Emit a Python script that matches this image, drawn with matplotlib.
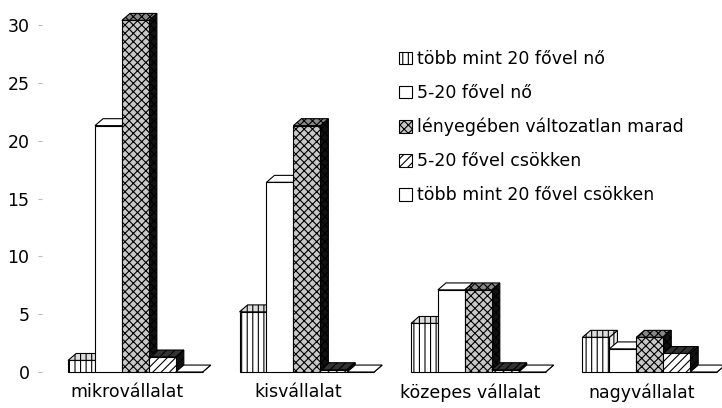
import matplotlib
matplotlib.use("Agg")
from matplotlib import pyplot as plt
from matplotlib.patches import Polygon

plt.rcParams['font.family'] = ['DejaVu Sans']
plt.rcParams['hatch.linewidth'] = 0.8

categories = ['mikrovállalat', 'kisvállalat', 'közepes vállalat', 'nagyvállalat']
series = ['több mint 20 fővel nő', '5-20 fővel nő', 'lényegében változatlan marad',
          '5-20 fővel csökken', 'több mint 20 fővel csökken']
values = [
    [1.0, 5.2, 4.2, 3.0],    # több mint 20 fővel nő
    [21.3, 16.4, 7.1, 2.0],  # 5-20 fővel nő
    [30.4, 21.3, 7.1, 3.0],  # lényegében változatlan marad
    [1.3, 0.2, 0.2, 1.6],    # 5-20 fővel csökken
    [0.0, 0.0, 0.0, 0.0],    # több mint 20 fővel csökken
]
yticks = [0, 5, 10, 15, 20, 25, 30]

# front face, hatch, top face, side face
styles = [
    ('white', '|||', '#dddddd', '#eeeeee'),
    ('white', None, 'white', 'white'),
    ('#c8c8c8', 'xxxx', '#888888', '#111111'),
    ('white', '////', '#333333', '#111111'),
    ('white', None, 'white', 'white'),
]

w = 0.157
dx, dy = 0.047, 0.6
start = -0.344  # left edge of a group relative to its label

fig = plt.figure(figsize=(7.22, 4.08), dpi=100)
ax = fig.add_axes([42 / 722, 36 / 408, 673 / 722, 347 / 408])

z = 2
for g in range(len(categories)):
    for s in range(len(series)):
        face, hatch, topc, sidec = styles[s]
        h = values[s][g]
        x0 = g + start + s * w
        x1 = x0 + w
        side = Polygon([(x1, 0), (x1 + dx, dy), (x1 + dx, h + dy), (x1, h)],
                       closed=True, facecolor=sidec, edgecolor='black', lw=0.8,
                       hatch=hatch, zorder=z, clip_on=False)
        top = Polygon([(x0, h), (x0 + dx, h + dy), (x1 + dx, h + dy), (x1, h)],
                      closed=True, facecolor=topc, edgecolor='black', lw=0.8,
                      hatch=hatch, zorder=z, clip_on=False)
        ax.add_patch(side)
        ax.add_patch(top)
        ax.bar(x0, h, width=w, align='edge', color=face, edgecolor='black', lw=0.8,
               hatch=hatch, zorder=z + 0.5, clip_on=False,
               label=series[s] if g == 0 else None)
        z += 1

ax.set_xlim(-0.496, 3.429)
ax.set_ylim(0, 30)
ax.set_yticks(yticks)
ax.set_xticks(range(len(categories)))
ax.set_xticklabels(categories, fontsize=12.5)
ax.tick_params(axis='y', labelsize=12.5, length=3, color='#bbbbbb', pad=6)
ax.tick_params(axis='x', length=0, pad=8)
for sp in ax.spines.values():
    sp.set_visible(False)

ax.legend(loc='upper left', bbox_to_anchor=(350 / 673, 1.0 - 18 / 347), frameon=False,
          fontsize=12.5, labelspacing=0.92, handlelength=0.75, handleheight=0.75,
          handletextpad=0.3, borderaxespad=0)

fig.savefig('out.png', dpi=100)
